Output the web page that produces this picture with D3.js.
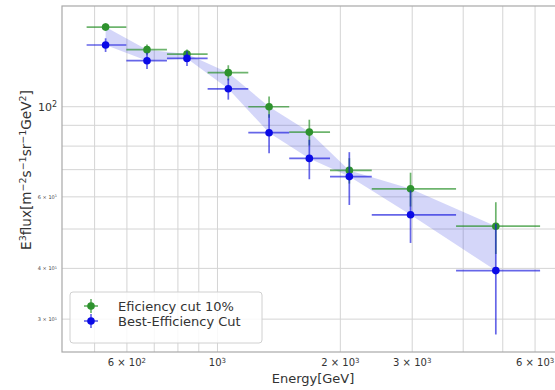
<!DOCTYPE html>
<html><head><meta charset="utf-8">
<script src="https://cdn.jsdelivr.net/npm/d3@7"></script>
<style>
html,body{margin:0;padding:0;background:#fff;}
svg{display:block;font-family:"DejaVu Sans",sans-serif;}
</style></head>
<body><svg id="c" width="555" height="390"></svg>
<script>
// ---- data ----
const energyCenters = [532, 672, 842, 1063, 1338, 1679, 2104, 2972, 4808];
const binLow  = [478, 598, 752, 946, 1190, 1499, 1887, 2388, 3842];
const binHigh = [598, 752, 946, 1190, 1499, 1887, 2388, 3842, 6172];
const greenFlux = [157.1, 138.2, 134.8, 121.3, 100.0, 86.6, 69.7, 62.8, 50.8];
const greenErr  = [3.5, 4.0, 3.5, 5.2, 6.0, 6.3, 5.0, 6.0, 7.4];
const blueFlux  = [141.9, 129.8, 131.5, 110.7, 86.3, 74.6, 67.3, 54.2, 39.5];
const blueErr   = [5.5, 6.0, 5.5, 6.6, 9.5, 8.3, 10.0, 8.0, 12.0];
const xDomain = [416, 7000];
const yDomain = [24.9, 177];
const xTicks = [500, 600, 700, 800, 900, 1000, 2000, 3000, 4000, 5000, 6000];
const xTickLabels = {600: ["6 × 10", "2"], 1000: ["10", "3"], 2000: ["2 × 10", "3"], 3000: ["3 × 10", "3"], 6000: ["6 × 10", "3"]};
const yTicks = [30, 40, 50, 60, 70, 80, 90, 100];
const yMajorLabels = {100: ["10", "2"]};
const yMinorLabels = {30: ["3 × 10", "1"], 40: ["4 × 10", "1"], 60: ["6 × 10", "1"]};
const seriesNames = ["Eficiency cut 10%", "Best-Efficiency Cut"];

// ---- layout ----
const L = 62, R = 562.4, T = 6, B = 352;
const svg = d3.select("#c");
const x = d3.scaleLog().domain(xDomain).range([L, R]);
const y = d3.scaleLog().domain(yDomain).range([B, T]);

// grid
const g = svg.append("g");
g.selectAll("line.vx").data(xTicks).join("line")
  .attr("x1", d => x(d)).attr("x2", d => x(d)).attr("y1", T).attr("y2", B)
  .attr("stroke", "#d4d4d4").attr("stroke-width", 1);
g.selectAll("line.hy").data(yTicks).join("line")
  .attr("x1", L).attr("x2", R).attr("y1", d => y(d)).attr("y2", d => y(d))
  .attr("stroke", "#d4d4d4").attr("stroke-width", 1);

// frame
svg.append("rect").attr("x", L).attr("y", T).attr("width", R - L).attr("height", B - T)
  .attr("fill", "none").attr("stroke", "#a8a8a8").attr("stroke-width", 1.2);

// band
const idx = d3.range(energyCenters.length);
const area = d3.area().x(i => x(energyCenters[i])).y0(i => y(greenFlux[i])).y1(i => y(blueFlux[i]));
svg.append("path").attr("d", area(idx)).attr("fill", "rgba(50,60,225,0.21)");

function drawSeries(vals, errs, lineCol, dotCol) {
  const s = svg.append("g");
  s.selectAll("line.h").data(idx).join("line")
    .attr("x1", i => x(binLow[i])).attr("x2", i => x(binHigh[i]))
    .attr("y1", i => y(vals[i])).attr("y2", i => y(vals[i]))
    .attr("stroke", lineCol).attr("stroke-width", 1.7);
  s.selectAll("line.v").data(idx).join("line")
    .attr("x1", i => x(energyCenters[i])).attr("x2", i => x(energyCenters[i]))
    .attr("y1", i => y(vals[i] + errs[i])).attr("y2", i => y(vals[i] - errs[i]))
    .attr("stroke", lineCol).attr("stroke-width", 1.7);
  s.selectAll("circle").data(idx).join("circle")
    .attr("cx", i => x(energyCenters[i])).attr("cy", i => y(vals[i])).attr("r", 3.8)
    .attr("fill", dotCol);
}
drawSeries(greenFlux, greenErr, "rgba(30,140,30,0.65)", "#2e922e");
drawSeries(blueFlux, blueErr, "rgba(20,20,220,0.65)", "#0a0ae6");

// x tick labels
function supText(sel, parts, supSize) {
  sel.append("tspan").text(parts[0]);
  sel.append("tspan").text(parts[1]).attr("font-size", supSize).attr("dy", "-0.45em");
}
xTicks.filter(d => xTickLabels[d]).forEach(d => {
  const t = svg.append("text").attr("x", x(d)).attr("y", 366).attr("text-anchor", "middle")
    .attr("font-size", 10).attr("fill", "#333");
  supText(t, xTickLabels[d], 7);
});
// y tick labels
Object.keys(yMajorLabels).forEach(k => {
  const t = svg.append("text").attr("x", 57).attr("y", y(+k) + 4).attr("text-anchor", "end")
    .attr("font-size", 11).attr("fill", "#333");
  supText(t, yMajorLabels[k], 8);
});
Object.keys(yMinorLabels).forEach(k => {
  const t = svg.append("text").attr("x", 57).attr("y", y(+k) + 2).attr("text-anchor", "end")
    .attr("font-size", 5).attr("fill", "#444");
  supText(t, yMinorLabels[k], 3.5);
});

// axis titles
svg.append("text").attr("x", 313).attr("y", 383).attr("text-anchor", "middle")
  .attr("font-size", 13).attr("fill", "#333").text("Energy[GeV]");
const yl = svg.append("text").attr("transform", "translate(31,170) rotate(-90)")
  .attr("text-anchor", "middle").attr("font-size", 13.6).attr("fill", "#333");
[["E",0],["3",1],["flux[m",0],["−2",1],["s",0],["−1",1],["sr",0],["−1",1],["GeV",0],["2",1],["]",0]].forEach(([s, sup], i, arr) => {
  const ts = yl.append("tspan").text(s);
  if (sup) ts.attr("font-size", 9.5).attr("dy", "-0.5em");
  else if (i > 0 && arr[i-1][1]) ts.attr("dy", "0.35em");
});

// legend
const lg = svg.append("g");
lg.append("rect").attr("x", 70).attr("y", 292).attr("width", 192).attr("height", 51).attr("rx", 3)
  .attr("fill", "rgba(255,255,255,0.85)").attr("stroke", "#d0d0d0");
[["rgba(30,140,30,0.65)", "#2e922e"], ["rgba(20,20,220,0.65)", "#0a0ae6"]].forEach((c, i) => {
  const cy = 306 + i * 15, cx = 91;
  lg.append("line").attr("x1", cx - 7).attr("x2", cx + 7).attr("y1", cy).attr("y2", cy).attr("stroke", c[0]).attr("stroke-width", 1.7);
  lg.append("line").attr("x1", cx).attr("x2", cx).attr("y1", cy - 7).attr("y2", cy + 7).attr("stroke", c[0]).attr("stroke-width", 1.7);
  lg.append("circle").attr("cx", cx).attr("cy", cy).attr("r", 3.8).attr("fill", c[1]);
  lg.append("text").attr("x", 118).attr("y", cy + 4.5).attr("font-size", 13).attr("fill", "#333").text(seriesNames[i]);
});
</script></body></html>
